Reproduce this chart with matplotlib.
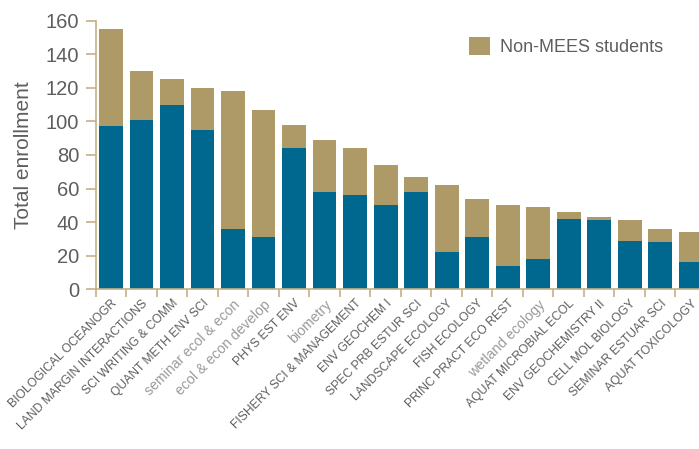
import numpy as np
import matplotlib
matplotlib.use("Agg")
import matplotlib.pyplot as plt

courses = ["BIOLOGICAL OCEANOGR", "LAND MARGIN INTERACTIONS", "SCI WRITING & COMM",
           "QUANT METH ENV SCI", "seminar ecol & econ", "ecol & econ develop",
           "PHYS EST ENV", "biometry", "FISHERY SCI & MANAGEMENT", "ENV GEOCHEM I",
           "SPEC PRB ESTUR SCI", "LANDSCAPE ECOLOGY", "FISH ECOLOGY",
           "PRINC PRACT ECO REST", "wetland ecology", "AQUAT MICROBIAL ECOL",
           "ENV GEOCHEMISTRY II", "CELL MOL BIOLOGY", "SEMINAR ESTUAR SCI",
           "AQUAT TOXICOLOGY"]
total = [155, 130, 125, 120, 118, 107, 98, 89, 84, 74,
         67, 62, 54, 50, 49, 46, 43, 41, 36, 34]
mees = [97, 101, 110, 95, 36, 31, 84, 58, 56, 50,
        58, 22, 31, 14, 18, 42, 41, 29, 28, 16]
non_mees = [t - m for t, m in zip(total, mees)]

blue = "#00688f"
tan = "#ae9a67"
spine_col = "#c4b084"
text_col = "#5e5e5e"
light_col = "#9a9a9a"

plt.rcParams['font.family'] = ['Liberation Sans', 'DejaVu Sans']

fig = plt.figure(figsize=(6.99, 4.49), dpi=100)
ax = fig.add_axes([0.137, 0.3557, 0.873, 0.5983])

x = np.arange(len(courses))
ax.bar(x, mees, width=0.78, color=blue)
ax.bar(x, non_mees, width=0.78, bottom=mees, color=tan, label="Non-MEES students")

ax.set_xlim(-0.5, len(courses) - 0.5)
ax.set_ylim(0, 160)
ax.set_yticks(range(0, 161, 20))
ax.tick_params(axis='y', colors=spine_col, labelcolor=text_col, labelsize=14.5,
               length=7, width=1.2, pad=5)

# x ticks sit on the category boundaries, labels at the bar centres
ax.set_xticks(np.arange(len(courses) + 1) - 0.5)
ax.set_xticklabels([])
ax.tick_params(axis='x', colors=spine_col, length=6, width=1.2)
ax.set_xticks(x, minor=True)
ax.set_xticklabels(courses, minor=True, rotation=45, ha='right',
                   rotation_mode='anchor', fontsize=8.7)
ax.tick_params(axis='x', which='minor', length=0, pad=6)
for lab in ax.get_xticklabels(minor=True):
    if lab.get_text().islower():
        lab.set_color(light_col)
        lab.set_fontsize(10.2)
    else:
        lab.set_color(text_col)

for side in ['top', 'right']:
    ax.spines[side].set_visible(False)
for side in ['left', 'bottom']:
    ax.spines[side].set_color(spine_col)
    ax.spines[side].set_linewidth(1.2)

ax.set_ylabel("Total enrollment", fontsize=15, color=text_col, labelpad=9)

ax.legend(loc='upper left', bbox_to_anchor=(0.585, 1.0), frameon=False,
          fontsize=13, handlelength=1.15, handleheight=1.15, labelcolor=text_col,
          handletextpad=0.55)

fig.savefig("out.png", dpi=100)
